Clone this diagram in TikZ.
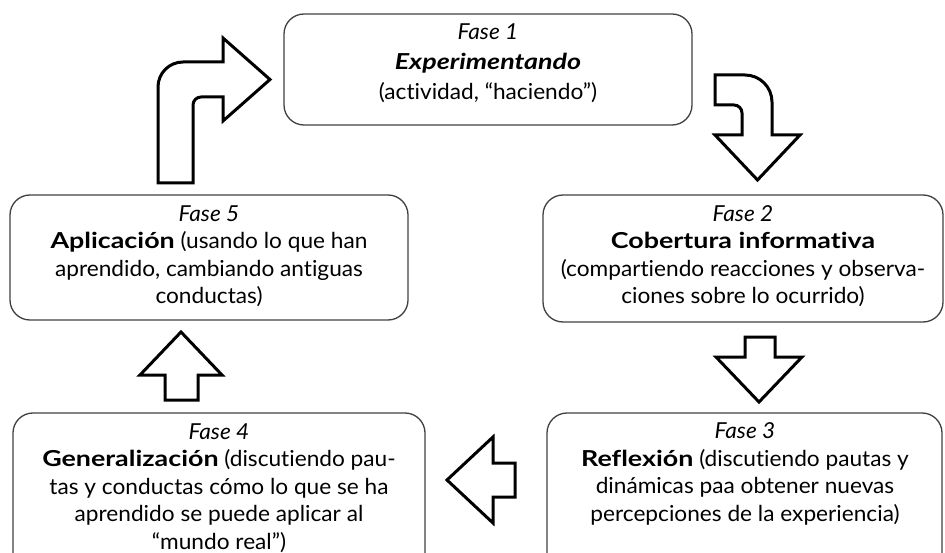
\documentclass[tikz,border=0pt]{standalone}
\usepackage{fontspec}
\setmainfont{Lato}[
  Ligatures=NoCommon,
  UprightFeatures={FakeStretch=1.03},
  ItalicFeatures={FakeStretch=1.03},
  BoldFeatures={FakeStretch=1.22},
  BoldItalicFeatures={FakeStretch=1.22}]
\begin{document}
\begin{tikzpicture}[x=1pt,y=-1pt,
  phasebox/.style={draw=black!75, line width=1.3pt, rounded corners=20pt},
  phasetext/.style={align=center, inner sep=0pt, font=\fontsize{22}{27.5}\selectfont},
  bigarrow/.style={draw=black, line width=3pt, fill=white, line join=miter}]
\useasboundingbox (0,0) rectangle (945,553);
% boxes
\draw[phasebox] (284,14) rectangle (692,125) node[midway] (b1) {};
\draw[phasebox] (543,195) rectangle (943,322) node[midway] (b2) {};
\draw[phasebox] (547,413) rectangle (942,620) node[midway] (b3) {};
\draw[phasebox] (13,413) rectangle (425,620) node[midway] (b4) {};
\draw[phasebox] (10,195) rectangle (408,320) node[midway] (b5) {};
% texts
\node[phasetext, font=\fontsize{22}{30}\selectfont] (t1) at (488,63)
  {\textit{Fase 1}\\ \textbf{\textit{Experimentando}}\\ (actividad, “haciendo”)};
\node[phasetext] (t2) at (743,256)
  {\textit{Fase 2}\\ \textbf{Cobertura informativa}\\ (compartiendo reacciones y observa-\\ ciones sobre lo ocurrido)};
\node[phasetext] (t3) at (745,474)
  {\textit{Fase 3}\\ \textbf{Reflexión} (discutiendo pautas y\\ dinámicas paa obtener nuevas\\ percepciones de la experiencia)};
\node[phasetext] (t4) at (219,488)
  {\textit{Fase 4}\\ \textbf{Generalización} (discutiendo pau-\\ tas y conductas cómo lo que se ha\\ aprendido se puede aplicar al\\ “mundo real”)};
\node[phasetext] (t5) at (209,256)
  {\textit{Fase 5}\\ \textbf{Aplicación} (usando lo que han\\ aprendido, cambiando antiguas\\ conductas)};
% arrows
\draw[bigarrow] (158,183) -- (158,87) .. controls (158,73.2) and (169.2,62) .. (183,62)
  -- (223,62) -- (223,38) -- (270,79.5) -- (223,121) -- (223,97) -- (201,97)
  .. controls (196.6,97) and (193,100.6) .. (193,105) -- (193,183) -- cycle;
\draw[bigarrow] (715,75) -- (745,75) .. controls (759.9,75) and (772,87.1) .. (772,102)
  -- (772,135) -- (800,135) -- (757.5,180) -- (715,135) -- (742,135) -- (742,113)
  .. controls (742,108.6) and (738.4,105) .. (734,105) -- (715,105) -- cycle;
\draw[bigarrow] (745,337) -- (775,337) -- (775,357) -- (802,357) -- (759,402)
  -- (716,357) -- (745,357) -- cycle;
\draw[bigarrow] (515,463) -- (515,497) -- (493,497) -- (493,523) -- (447,480)
  -- (493,437) -- (493,463) -- cycle;
\draw[bigarrow] (165,400) -- (198,400) -- (198,375) -- (222,375) -- (181,332)
  -- (140,375) -- (165,375) -- cycle;
\end{tikzpicture}
\end{document}
